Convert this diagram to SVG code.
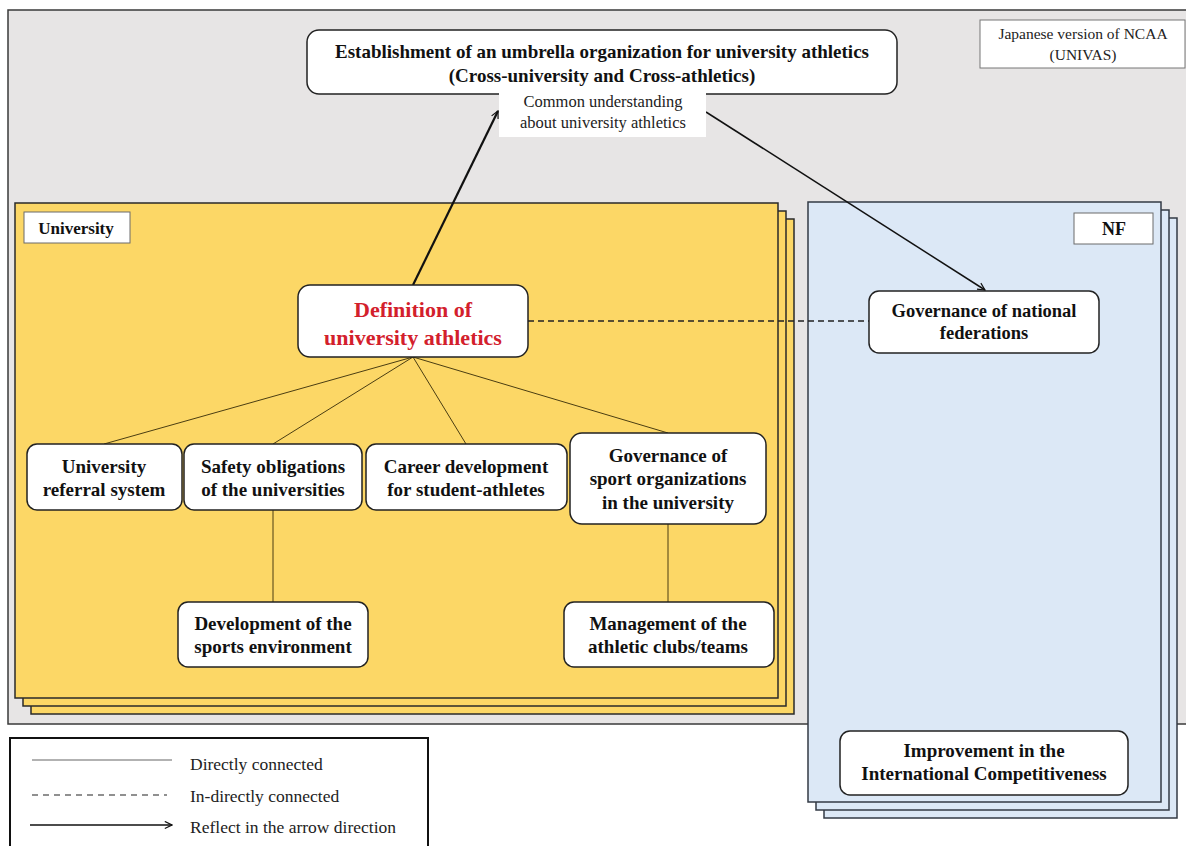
<svg xmlns="http://www.w3.org/2000/svg" width="1186" height="846" viewBox="0 0 1186 846">
  <defs>
    <style>
      .node { fill: #ffffff; stroke: #222222; stroke-width: 1.5; }
      .t { font-family: "Liberation Serif", "Times New Roman", serif; font-weight: bold; font-size: 19px; fill: #111111; text-anchor: middle; }
      .tr { font-family: "Liberation Serif", "Times New Roman", serif; font-size: 16.5px; fill: #222222; text-anchor: middle; }
      .lg { font-family: "Liberation Serif", "Times New Roman", serif; font-size: 17.5px; fill: #222222; }
      .uni { fill: #fcd766; stroke: #2a2a2a; stroke-width: 1.5; }
      .nf { fill: #dce8f6; stroke: #333a44; stroke-width: 1.5; }
      .thin { stroke: #4a3d12; stroke-width: 1; fill: none; }
    </style>
    <marker id="arrow" viewBox="0 0 10 10" refX="9" refY="5" markerWidth="9" markerHeight="9" orient="auto" markerUnits="userSpaceOnUse">
      <path d="M1,1 L9,5 L1,9" fill="none" stroke="#111111" stroke-width="1.3"/>
    </marker>
  </defs>

  <rect width="1186" height="846" fill="#ffffff"/>

  <!-- background panel -->
  <rect x="8" y="10" width="1190" height="714" fill="#e7e5e5" stroke="#3a3a3a" stroke-width="1.5"/>

  <!-- University stack -->
  <g id="university">
    <rect class="uni" x="31" y="219" width="763" height="495"/>
    <rect class="uni" x="23" y="211" width="763" height="495"/>
    <rect class="uni" x="15" y="203" width="763" height="495"/>
    <rect x="24" y="212" width="106" height="31" fill="#ffffff" stroke="#6b6b6b" stroke-width="1"/>
    <text class="t" x="76" y="234" style="font-size:17px">University</text>
  </g>

  <!-- NF stack -->
  <g id="nf">
    <rect class="nf" x="824" y="218" width="353" height="600"/>
    <rect class="nf" x="816" y="210" width="353" height="600"/>
    <rect class="nf" x="808" y="202" width="353" height="600"/>
    <rect x="1074" y="213" width="79" height="31" fill="#ffffff" stroke="#6b6b6b" stroke-width="1"/>
    <text class="t" x="1114" y="235" style="font-size:18px">NF</text>
  </g>

  <!-- connectors -->
  <g id="connectors">
    <line class="thin" x1="413" y1="357" x2="104" y2="444"/>
    <line class="thin" x1="413" y1="357" x2="273" y2="444"/>
    <line class="thin" x1="413" y1="357" x2="466" y2="444"/>
    <line class="thin" x1="413" y1="357" x2="668" y2="433"/>
    <line class="thin" x1="273" y1="510" x2="273" y2="602"/>
    <line class="thin" x1="668" y1="524" x2="668" y2="602"/>
    <line x1="528" y1="321" x2="869" y2="321" stroke="#222222" stroke-width="1.5" stroke-dasharray="6,4"/>
    <line x1="413" y1="285" x2="498" y2="111" stroke="#111111" stroke-width="2.2" marker-end="url(#arrow)"/>
    <line x1="706" y1="112" x2="985" y2="290" stroke="#111111" stroke-width="1.5" marker-end="url(#arrow)"/>
  </g>

  <!-- top organization -->
  <g id="umbrella">
    <rect class="node" x="307" y="30" width="590" height="64" rx="12"/>
    <text class="t" x="602" y="58">Establishment of an umbrella organization for university athletics</text>
    <text class="t" x="602" y="82">(Cross-university and Cross-athletics)</text>
  </g>

  <g id="common">
    <rect x="499" y="89" width="207" height="48" fill="#ffffff"/>
    <text class="tr" x="603" y="107">Common understanding</text>
    <text class="tr" x="603" y="128">about university athletics</text>
  </g>

  <g id="univas">
    <rect x="980" y="20" width="205" height="48" fill="#ffffff" stroke="#777777" stroke-width="1"/>
    <text class="tr" x="1083" y="39" style="font-size:15.5px">Japanese version of NCAA</text>
    <text class="tr" x="1083" y="60" style="font-size:15.5px">(UNIVAS)</text>
  </g>

  <g id="definition">
    <rect class="node" x="298" y="285" width="230" height="72" rx="12"/>
    <text class="t" x="413" y="317" style="font-size:22px;fill:#d3202c">Definition of</text>
    <text class="t" x="413" y="345" style="font-size:22px;fill:#d3202c">university athletics</text>
  </g>

  <g id="nf-governance">
    <rect class="node" x="869" y="291" width="230" height="62" rx="10"/>
    <text class="t" x="984" y="317" style="font-size:18.5px">Governance of national</text>
    <text class="t" x="984" y="339" style="font-size:18.5px">federations</text>
  </g>

  <g id="referral">
    <rect class="node" x="27" y="444" width="155" height="66" rx="10"/>
    <text class="t" x="104" y="473">University</text>
    <text class="t" x="104" y="496">referral system</text>
  </g>

  <g id="safety">
    <rect class="node" x="184" y="444" width="178" height="66" rx="10"/>
    <text class="t" x="273" y="473">Safety obligations</text>
    <text class="t" x="273" y="496">of the universities</text>
  </g>

  <g id="career">
    <rect class="node" x="366" y="444" width="201" height="66" rx="10"/>
    <text class="t" x="466" y="473">Career development</text>
    <text class="t" x="466" y="496">for student-athletes</text>
  </g>

  <g id="sport-governance">
    <rect class="node" x="570" y="433" width="196" height="91" rx="12"/>
    <text class="t" x="668" y="462">Governance of</text>
    <text class="t" x="668" y="485">sport organizations</text>
    <text class="t" x="668" y="509">in the university</text>
  </g>

  <g id="environment">
    <rect class="node" x="178" y="602" width="190" height="65" rx="10"/>
    <text class="t" x="273" y="630">Development of the</text>
    <text class="t" x="273" y="653">sports environment</text>
  </g>

  <g id="clubs">
    <rect class="node" x="564" y="602" width="210" height="65" rx="10"/>
    <text class="t" x="668" y="630">Management of the</text>
    <text class="t" x="668" y="653">athletic clubs/teams</text>
  </g>

  <g id="competitiveness">
    <rect class="node" x="840" y="731" width="288" height="64" rx="10"/>
    <text class="t" x="984" y="757">Improvement in the</text>
    <text class="t" x="984" y="780">International Competitiveness</text>
  </g>

  <!-- legend -->
  <g id="legend">
    <rect x="10" y="738" width="418" height="120" fill="#ffffff" stroke="#111111" stroke-width="2"/>
    <line x1="32" y1="760" x2="172" y2="760" stroke="#666666" stroke-width="1.2"/>
    <line x1="32" y1="795" x2="167" y2="795" stroke="#222222" stroke-width="1.2" stroke-dasharray="6,5"/>
    <line x1="30" y1="825" x2="172" y2="825" stroke="#111111" stroke-width="1.5" marker-end="url(#arrow)"/>
    <text class="lg" x="190" y="770">Directly connected</text>
    <text class="lg" x="190" y="802">In-directly connected</text>
    <text class="lg" x="190" y="833">Reflect in the arrow direction</text>
  </g>
</svg>
